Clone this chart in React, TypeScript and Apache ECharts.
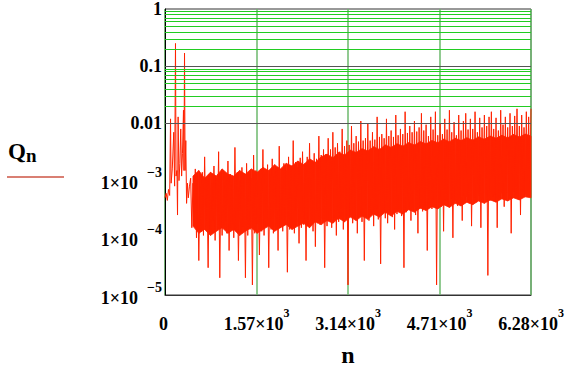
import React, { useEffect, useRef } from "react";
import * as echarts from "echarts";

// x-axis ticks (n) and y-axis range
const xTicks = [0, 1570, 3140, 4710, 6280];
const yMin = 1e-5;
const yMax = 1;
const minorMultipliers = [2, 3, 4, 5, 6, 7, 8, 9];
const decadeExponents = [-5, -4, -3, -2, -1];

// early part (irregular spikes)
const nEarly = [0, 20, 40, 60, 80, 95, 105, 125, 150, 165, 180, 190, 205, 215, 225, 240, 255, 270, 285, 300, 317, 325, 335, 345, 357, 370, 385, 400, 420];
const qEarly = [5e-4, 6e-4, 4.5e-4, 7e-4, 5.5e-4, 1.2e-2, 9e-4, 1.6e-3, 7e-3, 8e-4, 0.25, 1.2e-3, 1.5e-3, 2.5e-4, 1.3e-2, 1e-3, 2e-3, 8e-3, 1.2e-3, 3e-3, 1.7e-2, 1.5e-3, 0.17, 1.5e-3, 5e-3, 4e-4, 9e-4, 5e-4, 8e-4];

// dense oscillating part, sampled every 20 from n = 440
const bandStart = 440;
const bandStep = 20;
const qBand1 = [
  1.1e-3, 1.5e-4, 9e-4, 2e-4, 1.6e-3, 1e-4, 1.2e-3, 4e-5, 8e-4, 1.3e-4,
  1.4e-3, 1.1e-4, 2.6e-3, 1.6e-4, 1e-3, 3e-5, 1.3e-3, 1.2e-4, 9e-4, 2e-4,
  1.8e-3, 9e-5, 1.1e-3, 1.4e-4, 3.2e-3, 2e-5, 1.2e-3, 1.1e-4, 1.5e-3, 1.7e-4,
  1e-3, 1.2e-4, 2.2e-3, 6e-5, 1.3e-3, 1.5e-4, 1.1e-3, 1e-4, 3.8e-3, 1.3e-4,
  1.4e-3, 4e-5, 1e-3, 1.2e-4, 1.7e-3, 1.6e-4, 1.2e-3, 2e-5, 2e-3, 1.1e-4,
  1.3e-3, 1.4e-4, 1.1e-3, 1.5e-5, 2.8e-3, 1.2e-4, 1.5e-3, 1.8e-4, 1e-3, 5e-5,
  1.6e-3, 1.3e-4, 3.5e-3, 1.1e-4, 1.4e-3, 1.6e-4, 1.9e-3, 3e-5, 1.3e-3, 1.4e-4,
  2.4e-3, 1.2e-4, 1.5e-3, 1.8e-4, 1.7e-3, 6e-5, 4e-3, 1.5e-4, 1.6e-3, 1.3e-4,
  2e-3, 1.7e-4, 1.5e-3, 2.5e-5, 2.6e-3, 1.4e-4, 1.8e-3, 1.6e-4, 5e-3, 1.2e-4,
  2.1e-3, 1.9e-4, 1.7e-3, 8e-5, 2.5e-3, 1.5e-4, 3.2e-3, 1.7e-4, 2e-3, 4e-5,
];
const qBand2 = [
  2.6e-3, 1.6e-4, 4.5e-3, 2e-4, 2.2e-3, 1.3e-4, 3e-3, 7e-5, 2.4e-3, 1.8e-4,
  6e-3, 1.7e-4, 2.8e-3, 2.2e-4, 3.5e-3, 3e-5, 2.9e-3, 1.6e-4, 5.5e-3, 2e-4,
  3.5e-3, 1.5e-4, 7e-3, 2.3e-4, 3.8e-3, 1.1e-4, 4.5e-3, 1.9e-4, 3.2e-3, 2.4e-4,
  8e-3, 1.4e-4, 4e-3, 2.1e-4, 5e-3, 1.5e-5, 4.2e-3, 2.5e-4, 9e-3, 1.8e-4,
  4.5e-3, 2.2e-4, 6e-3, 1.2e-4, 4.8e-3, 2.6e-4, 1.1e-2, 1.9e-4, 5e-3, 4e-5,
  5.5e-3, 2.3e-4, 1e-2, 2e-4, 5e-3, 2.8e-4, 7e-3, 1.6e-4, 5.2e-3, 2.5e-4,
  1.3e-2, 2.1e-4, 5.8e-3, 3.5e-5, 6.5e-3, 2.7e-4, 5.5e-3, 2.2e-4, 1.2e-2, 1.8e-4,
  6e-3, 2.9e-4, 7.5e-3, 2.3e-4, 5.8e-3, 1.4e-4, 1.4e-2, 2.6e-4, 6.2e-3, 3e-4,
  8e-3, 2.4e-4, 6.5e-3, 3e-5, 1.6e-2, 2.8e-4, 6.8e-3, 3.2e-4, 9e-3, 2e-4,
  7e-3, 3.4e-4, 1.1e-2, 2.5e-4, 7.2e-3, 1.2e-4, 8.5e-3, 3.3e-4, 1.5e-2, 2.9e-4,
];
const qBand3 = [
  7.5e-3, 3.6e-4, 9.5e-3, 6e-5, 6e-3, 3.8e-4, 1.3e-2, 3.2e-4, 7.8e-3, 4e-4,
  1.6e-2, 1.5e-5, 6.2e-3, 4.2e-4, 1e-2, 3.5e-4, 6.5e-3, 1.3e-4, 1.2e-2, 4.5e-4,
  7.8e-3, 3.8e-4, 1.7e-2, 4.8e-4, 7e-3, 1e-4, 1.05e-2, 4.4e-4, 6.2e-3, 3.6e-4,
  1.4e-2, 5e-4, 7.5e-3, 2e-4, 1.1e-2, 4.6e-4, 1.5e-2, 5.2e-4, 7.8e-3, 4e-4,
  1.2e-2, 1.6e-4, 8e-3, 5e-4, 1.6e-2, 4.2e-4, 7e-3, 5.5e-4, 1.25e-2, 1.5e-4,
  8.5e-3, 4.8e-4, 1.4e-2, 5.6e-4, 9e-3, 2.2e-5, 1.3e-2, 4.5e-4, 1.6e-2, 5.3e-4,
  8e-3, 5.8e-4, 1.25e-2, 1.5e-4, 7.5e-3, 5e-4, 1.7e-2, 6e-4, 9.5e-3, 3.5e-4,
  1.3e-2, 6.2e-4, 8.5e-3, 5.4e-4, 1.5e-2, 1.2e-4, 9e-3, 6.4e-4, 1.35e-2, 5.7e-4,
  1.8e-2, 6e-4, 9e-3, 2.5e-4, 1.4e-2, 6.5e-4, 8.5e-3, 5.8e-4, 1.6e-2, 6.6e-4,
  1.3e-2, 7e-4, 1.8e-2,
];

// solid core of the dense band, sampled every 100 from n = 480
const bodyStart = 480;
const bodyStep = 100;
const bodyTop = [
  1.2e-3, 1.5e-3, 1.1e-3, 1.4e-3, 1.2e-3, 1.6e-3, 1.3e-3, 1.2e-3, 1.5e-3, 1.3e-3,
  1.6e-3, 1.4e-3, 1.7e-3, 1.5e-3, 1.9e-3, 1.6e-3, 2e-3, 1.8e-3, 2.2e-3, 1.9e-3,
  2.4e-3, 2.1e-3, 2.6e-3, 2.9e-3, 2.5e-3, 3.1e-3, 2.8e-3, 3.4e-3, 3.1e-3, 3.6e-3,
  3.3e-3, 3.9e-3, 3.5e-3, 4.2e-3, 3.8e-3, 4.4e-3, 4e-3, 4.6e-3, 4.2e-3, 4.8e-3,
  4.4e-3, 5e-3, 4.6e-3, 5.3e-3, 4.8e-3, 5.5e-3, 5e-3, 5.6e-3, 5.1e-3, 5.8e-3,
  5.3e-3, 6e-3, 5.5e-3, 6.2e-3, 5.6e-3, 6.4e-3, 5.8e-3, 6.5e-3, 6e-3,
];
const bodyBottom = [
  1.6e-4, 1.2e-4, 1.4e-4, 1.1e-4, 1.3e-4, 1.5e-4, 1.2e-4, 1.4e-4, 1.1e-4, 1.3e-4,
  1.5e-4, 1.2e-4, 1.4e-4, 1.6e-4, 1.3e-4, 1.5e-4, 1.7e-4, 1.4e-4, 1.6e-4, 1.8e-4,
  1.5e-4, 1.9e-4, 1.7e-4, 2e-4, 1.8e-4, 2.2e-4, 1.9e-4, 2.3e-4, 2e-4, 2.4e-4,
  2.1e-4, 2.6e-4, 2.3e-4, 2.8e-4, 2.4e-4, 2.9e-4, 2.6e-4, 3.1e-4, 2.8e-4, 3.3e-4,
  3e-4, 3.5e-4, 3.2e-4, 3.8e-4, 3.4e-4, 4e-4, 3.6e-4, 4.2e-4, 3.8e-4, 4.4e-4,
  4e-4, 4.6e-4, 4.2e-4, 4.8e-4, 4.4e-4, 5e-4, 4.6e-4, 5.2e-4, 5e-4,
];

const FONT = '"Liberation Serif", "Times New Roman", serif';
const RED = "#ff2200";

export default function App() {
  const ref = useRef<HTMLDivElement>(null);
  useEffect(() => {
    if (!ref.current) return;
    const chart = echarts.init(ref.current, null, { renderer: "svg" });

    const data: [number, number][] = [];
    nEarly.forEach((n, i) => data.push([n, qEarly[i]]));
    const band = [...qBand1, ...qBand2, ...qBand3];
    band.forEach((q, i) => data.push([bandStart + i * bandStep, q]));

    const bodySegments: number[][] = [];
    for (let i = 0; i < bodyTop.length - 1; i++) {
      bodySegments.push([
        bodyStart + i * bodyStep, bodyTop[i], bodyBottom[i],
        bodyStart + (i + 1) * bodyStep, bodyTop[i + 1], bodyBottom[i + 1],
      ]);
    }

    const gridLines: any[] = [];
    decadeExponents.forEach((e) =>
      minorMultipliers.forEach((m) => gridLines.push({ yAxis: m * Math.pow(10, e) }))
    );
    decadeExponents.slice(1).forEach((e) =>
      gridLines.push({ yAxis: Math.pow(10, e), lineStyle: { color: "#555", width: 1, type: "solid" } })
    );

    const base = { fontFamily: FONT, fontWeight: "bold", color: "#000" };

    chart.setOption({
      animation: false,
      backgroundColor: "#ffffff",
      grid: {
        left: 165,
        right: 41,
        top: 6,
        bottom: 70,
        show: true,
        borderColor: "#333",
        borderWidth: 1,
      },
      xAxis: {
        type: "value",
        min: xTicks[0],
        max: xTicks[xTicks.length - 1],
        interval: xTicks[1] - xTicks[0],
        name: "n",
        nameLocation: "middle",
        nameGap: 48,
        nameTextStyle: { ...base, fontSize: 24 },
        axisLine: { show: true, lineStyle: { color: "#333" } },
        axisTick: { show: false },
        splitLine: { show: true, lineStyle: { color: "#6cb86c", width: 1.5 } },
        axisLabel: {
          margin: 12,
          ...base,
          fontSize: 18,
          formatter: (v: number) =>
            v === 0 ? "{a|0}{b| }" : `{a|${(v / 1000).toFixed(2)}×10}{b|3}`,
          rich: {
            a: { ...base, fontSize: 18 },
            b: { ...base, fontSize: 12, padding: [0, 0, 22, 0] },
          },
        },
      },
      yAxis: {
        type: "log",
        logBase: 10,
        min: yMin,
        max: yMax,
        axisLine: { show: true, lineStyle: { color: "#000" } },
        axisTick: { show: false },
        splitLine: { show: false },
        axisLabel: {
          margin: 3,
          ...base,
          fontSize: 18,
          formatter: (v: number) => {
            const l = Math.log10(v);
            const e = Math.round(l);
            if (Math.abs(l - e) > 1e-6) return "";
            if (e === 0) return "1";
            if (e === -1) return "0.1";
            if (e === -2) return "0.01";
            return `{a|1×10}{b|−}{c|${-e}}`;
          },
          rich: {
            a: { ...base, fontSize: 18, padding: [5, 0, 0, 0] },
            b: { ...base, fontSize: 14, width: 17, padding: [0, 0, 16, 0] },
            c: { ...base, fontSize: 14, padding: [0, 0, 16, 0] },
          },
        },
      },
      graphic: [
        {
          type: "text",
          left: 8,
          top: 140,
          style: {
            text: "{q|Q}{s|n}",
            rich: {
              q: { fontFamily: FONT, fontWeight: "bold", fontSize: 23, fill: "#000" },
              s: { fontFamily: FONT, fontWeight: "bold", fontSize: 19, fill: "#000", padding: [8, 0, 0, 0] },
            },
          },
        },
        {
          type: "line",
          shape: { x1: 7, y1: 177, x2: 64, y2: 177 },
          style: { stroke: "#cc5544", lineWidth: 1.5 },
        },
      ],
      series: [
        {
          type: "line",
          data: [],
          z: 1,
          silent: true,
          markLine: {
            silent: true,
            symbol: ["none", "none"],
            label: { show: false },
            lineStyle: { color: "#22cc22", width: 1, type: "solid" },
            data: gridLines,
          },
        },
        {
          type: "custom",
          z: 2,
          silent: true,
          data: bodySegments,
          encode: { x: [0, 3], y: [1, 2, 4, 5] },
          renderItem: (_params: any, api: any) => {
            const a = api.coord([api.value(0), api.value(1)]);
            const b = api.coord([api.value(3), api.value(4)]);
            const c = api.coord([api.value(3), api.value(5)]);
            const d = api.coord([api.value(0), api.value(2)]);
            return {
              type: "polygon",
              shape: { points: [a, b, c, d] },
              style: { fill: RED, stroke: RED, lineWidth: 0.8 },
            };
          },
        },
        {
          type: "line",
          data,
          z: 3,
          showSymbol: false,
          symbol: "none",
          lineStyle: { color: RED, width: 1 },
          itemStyle: { color: RED },
        },
      ],
    });
    return () => chart.dispose();
  }, []);
  return (
    <div
      ref={ref}
      style={{ position: "absolute", left: 0, top: 0, width: 572, height: 372 }}
    />
  );
}
